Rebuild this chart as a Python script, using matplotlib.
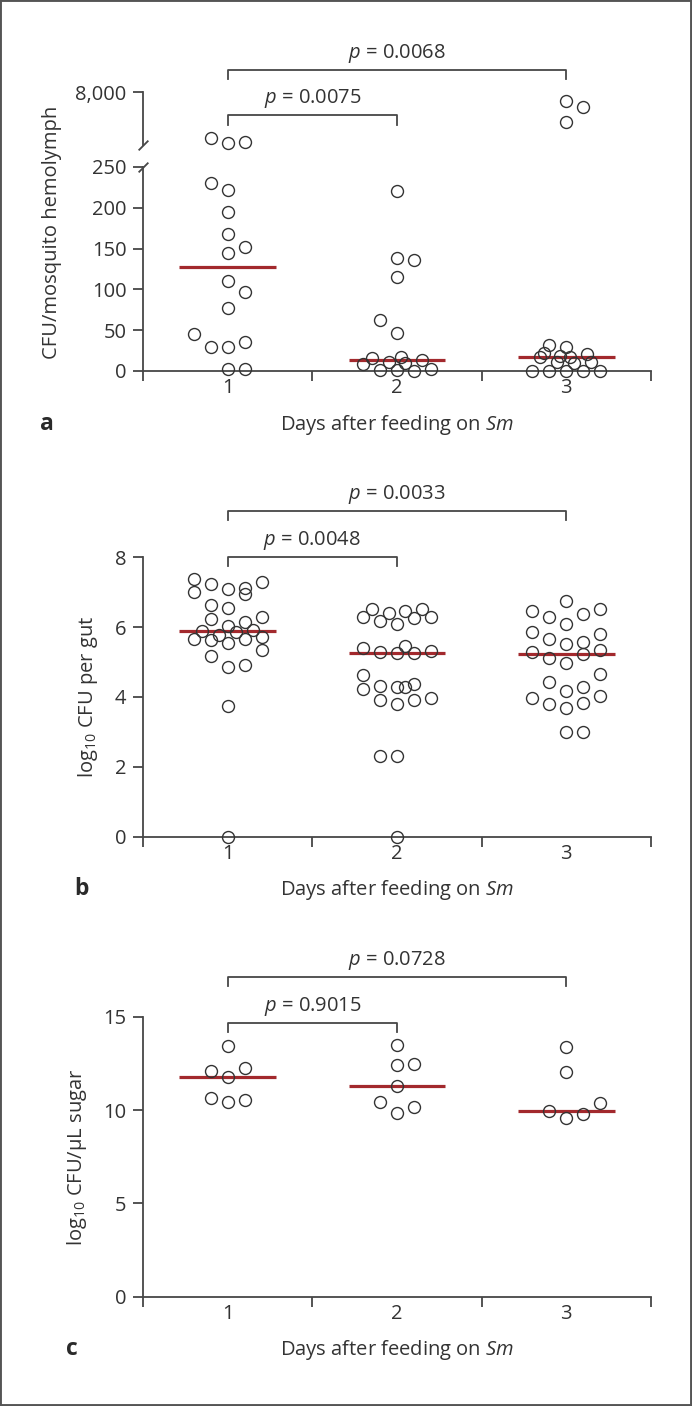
import numpy as np
import matplotlib.pyplot as plt
from matplotlib.transforms import blended_transform_factory
from matplotlib.patches import Rectangle

plt.rcParams['font.family'] = ['Open Sans', 'DejaVu Sans']
plt.rcParams['mathtext.fontset'] = 'custom'
plt.rcParams['mathtext.rm'] = 'Open Sans'
plt.rcParams['mathtext.it'] = 'Open Sans:italic'
plt.rcParams['mathtext.bf'] = 'Open Sans:bold'

# ---- data ----
days = ['1', '2', '3']

# panel a: CFU per mosquito hemolymph (broken axis, upper part up to 8,000)
a_day1 = [230, 222, 195, 168, 152, 144, 110, 97, 77, 45, 29, 29, 35, 2, 3]
a_day1_high = [1240, 500, 650]
a_day2 = [220, 139, 136, 115, 63, 47, 15.5, 8, 1, 11.5, 1, 17, 9.5, 0.5, 13.5, 3]
a_day3 = [32, 29, 17, 22, 18, 17.5, 21, 11.5, 10, 11.5, 0.5, 0.5, 0.5, 0.5, 0.5]
a_day3_high = [6770, 5890, 3680]
a_median = [128, 14, 17]
a_p = ['0.0075', '0.0068']

# panel b: log10 CFU per gut
b_day1 = [7.38, 7.00, 7.24, 7.08, 7.13, 6.94, 7.30, 6.62, 6.54, 6.23, 6.28, 6.16,
          6.04, 5.90, 5.92, 5.87, 5.78, 5.66, 5.63, 5.66, 5.73, 5.54, 5.35, 5.17,
          4.87, 4.92, 3.74, 0.0]
b_day2 = [6.51, 6.40, 6.47, 6.51, 6.28, 6.18, 6.08, 6.25, 6.30, 5.40, 5.47, 5.28,
          5.25, 5.25, 5.31, 4.62, 4.24, 4.32, 4.30, 4.30, 4.36, 3.92, 3.81, 3.91,
          3.98, 2.32, 2.32, 0.0]
b_day3 = [6.75, 6.47, 6.52, 6.30, 6.37, 6.08, 5.87, 5.79, 5.66, 5.52, 5.58, 5.28,
          5.11, 5.22, 5.35, 4.96, 4.66, 4.44, 4.18, 4.28, 4.04, 3.96, 3.80, 3.68,
          3.82, 3.01, 3.01]
b_median = [5.90, 5.25, 5.22]
b_p = ['0.0048', '0.0033']

# panel c: log10 CFU/uL sugar
c_day1 = [13.45, 12.11, 12.27, 11.77, 10.63, 10.45, 10.52]
c_day2 = [13.48, 12.41, 12.46, 11.29, 10.45, 10.18, 9.82]
c_day3 = [13.39, 12.02, 10.38, 9.96, 9.77, 9.59]
c_median = [11.77, 11.27, 9.96]
c_p = ['0.9015', '0.0728']

# horizontal scatter of the dots (layout only)
a_jit1 = [-0.1, 0, 0, 0, 0.1, 0, 0, 0.1, 0, -0.2, -0.1, 0, 0.1, 0, 0.1]
a_jit1_high = [-0.1, 0, 0.1]
a_jit2 = [0, 0, 0.1, 0, -0.1, 0, -0.15, -0.2, -0.1, -0.05, 0, 0.025, 0.05, 0.1, 0.15, 0.2]
a_jit3 = [-0.1, 0, -0.155, -0.13, -0.04, 0.02, 0.12, -0.055, 0.045, 0.145,
          -0.2, -0.1, 0, 0.1, 0.2]
a_jit3_high = [0, 0.1, 0]
b_jit1 = [-0.2, -0.2, -0.1, 0, 0.1, 0.1, 0.2, -0.1, 0, -0.1, 0.2, 0.1,
          0, -0.15, 0.15, 0.05, -0.05, -0.2, -0.1, 0.1, 0.2, 0, 0.2, -0.1,
          0, 0.1, 0, 0]
b_jit2 = [-0.15, -0.05, 0.05, 0.15, -0.2, -0.1, 0, 0.1, 0.2, -0.2, 0.05, -0.1,
          0, 0.1, 0.2, -0.2, -0.2, -0.1, 0, 0.05, 0.1, -0.1, 0, 0.1,
          0.2, -0.1, 0, 0]
b_jit3 = [0, -0.2, 0.2, -0.1, 0.1, 0, -0.2, 0.2, -0.1, 0, 0.1, -0.2,
          -0.1, 0.1, 0.2, 0, 0.2, -0.1, 0, 0.1, 0.2, -0.2, -0.1, 0,
          0.1, 0, 0.1]
c_jit1 = [0, -0.1, 0.1, 0, -0.1, 0, 0.1]
c_jit2 = [0, 0, 0.1, 0, -0.1, 0.1, 0]
c_jit3 = [0, 0, 0.2, -0.1, 0.1, 0]

FS = 14.5
TXT = '#333333'
AXC = '#474747'
RED = '#a2292d'

W, H = 692, 1406
fig = plt.figure(figsize=(W / 100, H / 100), dpi=100)


def fy(y):
    return 1 - y / H


def add_ax(y_top, y_bot, x0=143, x1=651):
    return fig.add_axes([x0 / W, fy(y_bot), (x1 - x0) / W, (y_bot - y_top) / H])


def style(ax, bottom=True):
    for s in ['top', 'right']:
        ax.spines[s].set_visible(False)
    for s in ['left', 'bottom']:
        ax.spines[s].set_color(AXC)
        ax.spines[s].set_linewidth(1.3)
    ax.set_xlim(0.5, 3.5)
    ax.tick_params(axis='y', length=7, width=1.3, color=AXC, pad=5,
                   labelsize=FS, labelcolor=TXT)
    if bottom:
        ax.set_xticks([0.5, 1.5, 2.5, 3.5])
        ax.set_xticklabels([])
        ax.set_xticks([1, 2, 3], minor=True)
        ax.set_xticklabels(days, minor=True)
        ax.tick_params(axis='x', which='major', length=7, width=1.3, color=AXC)
        ax.tick_params(axis='x', which='minor', length=0, pad=5,
                       labelsize=FS, labelcolor=TXT)
    else:
        ax.spines['bottom'].set_visible(False)
        ax.set_xticks([])


def dots(ax, x, vals, jit):
    ax.plot(x + np.array(jit), vals, 'o', ms=8.6, mfc='none', mec=TXT,
            mew=1.0, clip_on=False, zorder=3)


def medians(ax, meds):
    for i, m in enumerate(meds):
        ax.hlines(m, i + 1 - 0.285, i + 1 + 0.285, color=RED, lw=2.3, zorder=2)


def bracket(ax, x1, x2, top, text, drop=9.5):
    tr = blended_transform_factory(ax.transData, fig.transFigure)
    ax.plot([x1, x1, x2, x2], [fy(top + drop), fy(top), fy(top), fy(top + drop)],
            transform=tr, color=AXC, lw=1.3, clip_on=False)
    ax.text((x1 + x2) / 2, fy(top - 11.5), r'$\it{p}$ = ' + text, transform=tr,
            ha='center', va='baseline', fontsize=FS, color=TXT)


def bottom_labels(ax, axis_y, letter, letter_x):
    base = fy(axis_y + 58.5)
    tr = blended_transform_factory(ax.transAxes, fig.transFigure)
    ax.text(0.5, base, r'Days after feeding on $\it{Sm}$', transform=tr,
            ha='center', va='baseline', fontsize=FS, color=TXT)
    fig.text(letter_x / W, base, letter, ha='center', va='baseline',
             fontsize=FS + 2, fontweight='bold', color='#2a2a2a')


# ---- panel a ----
ax_a = add_ax(167, 371)
ax_a_up = add_ax(92.3, 145)
style(ax_a)
style(ax_a_up, bottom=False)
ax_a.set_ylim(0, 250)
ax_a.set_yticks([0, 50, 100, 150, 200, 250])
ax_a_up.set_ylim(250, 8000)
ax_a_up.set_yticks([8000])
ax_a_up.set_yticklabels(['8,000'])
ax_a_up.patch.set_alpha(0)

dots(ax_a, 1, a_day1, a_jit1)
dots(ax_a, 2, a_day2, a_jit2)
dots(ax_a, 3, a_day3, a_jit3)
dots(ax_a_up, 1, a_day1_high, a_jit1_high)
dots(ax_a_up, 3, a_day3_high, a_jit3_high)
medians(ax_a, a_median)

# break marks on the y axis
for axx, yy in [(ax_a_up, 0), (ax_a, 1)]:
    axx.plot([0], [yy], transform=axx.transAxes, marker=[(-1, -1), (1, 1)],
             ms=7, mew=1.3, color=AXC, ls='none', clip_on=False)

bracket(ax_a, 1, 3, 69.7, a_p[1])
bracket(ax_a, 1, 2, 115, a_p[0])
bottom_labels(ax_a, 371, 'a', 47)
fig.text(52 / W, fy(232), 'CFU/mosquito hemolymph', rotation=90, ha='center',
         va='center', fontsize=FS, color=TXT)

# ---- panel b ----
ax_b = add_ax(557.3, 836.7)
style(ax_b)
ax_b.set_ylim(0, 8)
ax_b.set_yticks([0, 2, 4, 6, 8])
dots(ax_b, 1, b_day1, b_jit1)
dots(ax_b, 2, b_day2, b_jit2)
dots(ax_b, 3, b_day3, b_jit3)
medians(ax_b, b_median)
bracket(ax_b, 1, 3, 510.7, b_p[1])
bracket(ax_b, 1, 2, 556.7, b_p[0])
bottom_labels(ax_b, 836.7, 'b', 81)
fig.text(88 / W, fy(697), r'log$_{10}$ CFU per gut', rotation=90, ha='center',
         va='center', fontsize=FS, color=TXT)

# ---- panel c ----
ax_c = add_ax(1016.7, 1296.7)
style(ax_c)
ax_c.set_ylim(0, 15)
ax_c.set_yticks([0, 5, 10, 15])
dots(ax_c, 1, c_day1, c_jit1)
dots(ax_c, 2, c_day2, c_jit2)
dots(ax_c, 3, c_day3, c_jit3)
medians(ax_c, c_median)
bracket(ax_c, 1, 3, 976.7, c_p[1])
bracket(ax_c, 1, 2, 1022.7, c_p[0])
bottom_labels(ax_c, 1296.7, 'c', 72)
fig.text(77 / W, fy(1157), r'log$_{10}$ CFU/μL sugar', rotation=90, ha='center',
         va='center', fontsize=FS, color=TXT)

# outer frame
fig.patches.append(Rectangle((0, 0), 1, 1, transform=fig.transFigure, fill=False,
                             ec='#555555', lw=2.8))

fig.savefig('out.png', dpi=100)
